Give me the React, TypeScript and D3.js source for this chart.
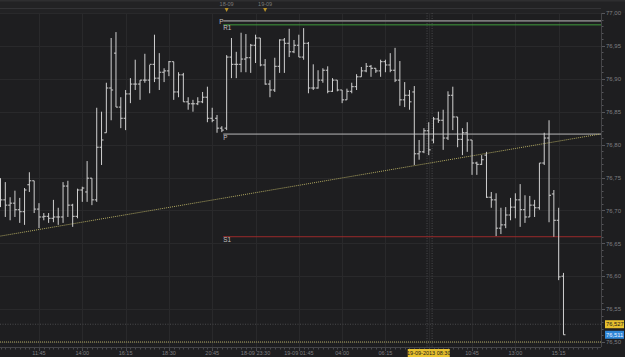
import React from "react";
import * as d3 from "d3";

// ---------- data (15-minute OHLC bars) ----------
const openP = [
  76.723, 76.716, 76.708, 76.711, 76.701, 76.698, 76.739, 76.745, 76.702, 76.690,
  76.691, 76.688, 76.690, 76.690, 76.737, 76.708, 76.691, 76.731, 76.728, 76.749,
  76.716, 76.796, 76.818, 76.886, 76.939, 76.857, 76.840, 76.877, 76.892, 76.892,
  76.898, 76.898, 76.922, 76.901, 76.910, 76.912, 76.926, 76.880, 76.906, 76.865,
  76.862, 76.862, 76.865, 76.872, 76.840, 76.840, 76.825, 76.825, 76.933, 76.922,
  76.922, 76.930, 76.932, 76.951, 76.962, 76.921, 76.892, 76.883, 76.919, 76.959,
  76.954, 76.941, 76.951, 76.933, 76.954, 76.886, 76.886, 76.898, 76.913, 76.881,
  76.898, 76.883, 76.868, 76.881, 76.888, 76.903, 76.912, 76.919, 76.916, 76.912,
  76.926, 76.921, 76.913, 76.898, 76.868, 76.875, 76.880, 76.786, 76.789, 76.821,
  76.807, 76.839, 76.837, 76.810, 76.875, 76.842, 76.808, 76.818, 76.807, 76.772,
  76.770, 76.784, 76.720, 76.716, 76.673, 76.678, 76.693, 76.705, 76.716, 76.701,
  76.690, 76.708, 76.704, 76.772, 76.810, 76.725, 76.685, 76.600,
];
const highP = [
  76.749, 76.743, 76.720, 76.730, 76.719, 76.734, 76.758, 76.745, 76.711, 76.696,
  76.696, 76.716, 76.704, 76.743, 76.745, 76.710, 76.733, 76.736, 76.775, 76.749,
  76.856, 76.850, 76.894, 76.962, 76.971, 76.872, 76.883, 76.901, 76.929, 76.898,
  76.938, 76.921, 76.967, 76.939, 76.916, 76.927, 76.926, 76.910, 76.909, 76.872,
  76.868, 76.872, 76.880, 76.888, 76.856, 76.845, 76.828, 76.936, 76.962, 76.941,
  76.970, 76.968, 76.953, 76.967, 76.962, 76.930, 76.898, 76.932, 76.960, 76.962,
  76.976, 76.959, 76.967, 76.977, 76.956, 76.922, 76.913, 76.916, 76.919, 76.901,
  76.898, 76.883, 76.885, 76.894, 76.907, 76.918, 76.924, 76.921, 76.916, 76.929,
  76.929, 76.939, 76.947, 76.927, 76.895, 76.883, 76.889, 76.807, 76.825, 76.834,
  76.842, 76.850, 76.853, 76.881, 76.888, 76.842, 76.825, 76.834, 76.807, 76.774,
  76.784, 76.789, 76.728, 76.726, 76.704, 76.705, 76.719, 76.726, 76.740, 76.723,
  76.722, 76.716, 76.772, 76.818, 76.837, 76.731, 76.704, 76.605,
];
const lowP = [
  76.705, 76.690, 76.685, 76.690, 76.681, 76.678, 76.728, 76.696, 76.673, 76.685,
  76.681, 76.682, 76.678, 76.681, 76.690, 76.675, 76.688, 76.713, 76.713, 76.708,
  76.713, 76.769, 76.818, 76.837, 76.857, 76.825, 76.822, 76.863, 76.883, 76.868,
  76.894, 76.878, 76.895, 76.883, 76.895, 76.904, 76.868, 76.872, 76.865, 76.853,
  76.850, 76.860, 76.863, 76.834, 76.834, 76.818, 76.819, 76.822, 76.901, 76.901,
  76.910, 76.910, 76.909, 76.924, 76.919, 76.891, 76.872, 76.880, 76.909, 76.909,
  76.933, 76.939, 76.933, 76.929, 76.878, 76.883, 76.885, 76.894, 76.878, 76.880,
  76.881, 76.863, 76.868, 76.878, 76.883, 76.903, 76.910, 76.903, 76.909, 76.903,
  76.910, 76.910, 76.895, 76.859, 76.857, 76.853, 76.769, 76.777, 76.787, 76.784,
  76.802, 76.833, 76.792, 76.807, 76.822, 76.796, 76.784, 76.789, 76.754, 76.754,
  76.769, 76.719, 76.704, 76.661, 76.664, 76.673, 76.685, 76.688, 76.675, 76.681,
  76.690, 76.690, 76.701, 76.769, 76.682, 76.660, 76.594, 76.511,
];
const closeP = [
  76.716, 76.708, 76.711, 76.701, 76.698, 76.731, 76.745, 76.702, 76.690, 76.691,
  76.688, 76.690, 76.690, 76.737, 76.708, 76.691, 76.731, 76.734, 76.749, 76.716,
  76.796, 76.807, 76.886, 76.883, 76.857, 76.840, 76.877, 76.892, 76.892, 76.898,
  76.898, 76.922, 76.901, 76.910, 76.912, 76.926, 76.880, 76.906, 76.865, 76.862,
  76.862, 76.865, 76.872, 76.840, 76.837, 76.825, 76.822, 76.933, 76.922, 76.922,
  76.930, 76.932, 76.951, 76.962, 76.921, 76.892, 76.883, 76.919, 76.959, 76.954,
  76.941, 76.951, 76.933, 76.954, 76.886, 76.886, 76.898, 76.913, 76.881, 76.898,
  76.883, 76.868, 76.881, 76.888, 76.903, 76.912, 76.919, 76.916, 76.912, 76.926,
  76.921, 76.913, 76.898, 76.868, 76.875, 76.865, 76.786, 76.789, 76.821, 76.792,
  76.839, 76.837, 76.810, 76.875, 76.842, 76.808, 76.818, 76.807, 76.772, 76.770,
  76.777, 76.720, 76.716, 76.673, 76.678, 76.693, 76.705, 76.716, 76.701, 76.690,
  76.708, 76.704, 76.772, 76.810, 76.723, 76.685, 76.599, 76.511,
];

const xTickLabels = [
  "11:45", "14:00", "16:15", "18:30", "20:45", "18-09 23:30", "19-09 01:45",
  "04:00", "06:15", "19-09-2013 08:30", "10:45", "13:00", "15:15",
];
const xTickIndex = [8, 17, 26, 35, 44, 53, 62, 71, 80, 89, 98, 107, 116];
const highlightedTick = "19-09-2013 08:30";

const priceTicks = [76.5, 76.55, 76.6, 76.65, 76.7, 76.75, 76.8, 76.85, 76.9, 76.95, 77.0];

const dayLabels = ["18-09", "19-09"];
const dayIndex = [47, 55];

const pivotNames = ["P", "R1", "P", "S1"];
const pivotValues = [76.988, 76.982, 76.816, 76.66];
const pivotColors = ["#7a7a7a", "#3f9a3a", "#b8b8b8", "#9a2a2a"];
const pivotStart = 46.3;

const trendIndex = [0, 124.6];
const trendPrice = [76.661, 76.816];

const bottomLevel = 76.5;
const crossPrice = 76.527;
const crossIndex = [88.65, 89.7];
const lastPrice = 76.511;

// ---------- layout ----------
const W = 625;
const H = 357;
const PLOT_R = 601;
const PLOT_T = 13;
const AXIS_Y = 347;

const fmt = (v: number, d = 2) => d3.format(`.${d}f`)(v).replace(".", ",");

export default function App() {
  const n = openP.length;
  const x = d3.scaleLinear().domain([0, 124.8]).range([0.5, PLOT_R]);
  const y = d3.scaleLinear().domain([76.5, 77.0]).range([342, PLOT_T]);
  const barColor = "#d0d0d0";
  const textColor = "#7e7e80";
  const font = "'Liberation Sans', Arial, sans-serif";

  const minorPrice = d3.range(0, 51).map((k) => 76.5 + k * 0.01);
  const trend = d3
    .line<number>()
    .x((_, i) => x(trendIndex[i]))
    .y((d) => y(d));

  return (
    <svg
      width={W}
      height={H}
      style={{ position: "absolute", left: 0, top: 0, background: "#1e1e20" }}
      fontFamily={font}
    >
      <rect x={0} y={0} width={W} height={H} fill="#1e1e20" />
      {/* top strip */}
      <rect x={0} y={0} width={W} height={PLOT_T} fill="#222224" />
      <rect x={0} y={0} width={W} height={1.5} fill="#2e2e30" />
      <line x1={0} x2={PLOT_R} y1={8.5} y2={8.5} stroke="#333336" />
      <line x1={0} x2={PLOT_R} y1={PLOT_T + 0.5} y2={PLOT_T + 0.5} stroke="#38383b" />

      {/* grid */}
      {priceTicks.map((p, i) => (
        <line key={"hg" + i} x1={0} x2={PLOT_R} y1={Math.round(y(p)) + 0.5} y2={Math.round(y(p)) + 0.5} stroke="#29292b" />
      ))}
      {xTickIndex.map((t, i) => (
        <line key={"vg" + i} x1={Math.round(x(t)) + 0.5} x2={Math.round(x(t)) + 0.5} y1={PLOT_T} y2={AXIS_Y} stroke="#29292b" />
      ))}

      {/* day markers */}
      {dayLabels.map((d, i) => (
        <g key={"day" + i}>
          <text x={x(dayIndex[i])} y={6} fontSize={5.5} fill="#7a7a7a" textAnchor="middle">
            {d}
          </text>
          <path
            d={`M${x(dayIndex[i]) - 2},8 L${x(dayIndex[i]) + 2},8 L${x(dayIndex[i])},12 Z`}
            fill="#b8922a"
          />
        </g>
      ))}

      {/* crosshair */}
      {crossIndex.map((c, i) => (
        <line key={"cx" + i} x1={x(c)} x2={x(c)} y1={PLOT_T} y2={AXIS_Y} stroke="#4a4a4c" strokeDasharray="1,1.5" />
      ))}
      <line x1={0} x2={PLOT_R} y1={y(crossPrice)} y2={y(crossPrice)} stroke="#4a4a4c" strokeDasharray="1,1.5" />
      <line x1={0} x2={PLOT_R} y1={y(bottomLevel)} y2={y(bottomLevel)} stroke="#b0a860" strokeDasharray="1,1" />

      {/* pivot levels */}
      {pivotValues.map((v, i) => (
        <g key={"pv" + i}>
          <line
            x1={x(pivotStart)}
            x2={PLOT_R}
            y1={y(v)}
            y2={y(v)}
            stroke={pivotColors[i]}
            strokeWidth={i === 0 ? 1.6 : 1}
          />
          <text
            x={x(pivotStart) + (i === 0 ? -4 : 0)}
            y={y(v) + (i === 0 ? 3 : 5.5)}
            fontSize={6.3}
            fill="#c0c0c0"
          >
            {pivotNames[i]}
          </text>
        </g>
      ))}

      {/* trend line */}
      <path d={trend(trendPrice) || ""} fill="none" stroke="#b0a860" strokeWidth={1} strokeDasharray="1,1" />

      {/* OHLC bars */}
      {d3.range(n).map((i) => {
        const cx = x(i);
        return (
          <g key={"b" + i} stroke={barColor} strokeWidth={1}>
            <line x1={cx} x2={cx} y1={y(highP[i])} y2={y(lowP[i])} />
            <line x1={cx - 2} x2={cx} y1={y(openP[i])} y2={y(openP[i])} />
            <line x1={cx} x2={cx + 2} y1={y(closeP[i])} y2={y(closeP[i])} />
          </g>
        );
      })}

      {/* right axis */}
      <line x1={PLOT_R + 0.5} x2={PLOT_R + 0.5} y1={PLOT_T} y2={AXIS_Y} stroke="#444447" />
      {minorPrice.map((p, i) => (
        <line
          key={"mt" + i}
          x1={PLOT_R + 1}
          x2={PLOT_R + (i % 5 === 0 ? 4 : 2.5)}
          y1={Math.round(y(p)) + 0.5}
          y2={Math.round(y(p)) + 0.5}
          stroke="#55555a"
        />
      ))}
      {priceTicks.map((p, i) => (
        <text key={"pl" + i} x={606} y={y(p) + 2.2} fontSize={6} fill={textColor}>
          {fmt(p)}
        </text>
      ))}
      <rect x={605} y={y(crossPrice) - 4} width={19} height={8} fill="#e6c02e" />
      <text x={606} y={y(crossPrice) + 2.2} fontSize={5.8} fill="#1a1a1a">
        {fmt(crossPrice, 3)}
      </text>
      <rect x={605} y={y(lastPrice) - 4} width={19} height={8} fill="#2f86d6" />
      <text x={606} y={y(lastPrice) + 2.2} fontSize={5.8} fill="#e8f0ff">
        {fmt(lastPrice, 3)}
      </text>

      {/* bottom axis */}
      <line x1={0} x2={PLOT_R} y1={AXIS_Y + 0.5} y2={AXIS_Y + 0.5} stroke="#444447" />
      {d3.range(0, 125).map((i) => (
        <line
          key={"bt" + i}
          x1={Math.round(x(i)) + 0.5}
          x2={Math.round(x(i)) + 0.5}
          y1={AXIS_Y + 1}
          y2={AXIS_Y + (xTickIndex.includes(i) ? 4 : 2.5)}
          stroke="#4a4a4d"
        />
      ))}
      {xTickLabels.map((t, i) => {
        const cx = x(xTickIndex[i]);
        const hl = t === highlightedTick;
        return (
          <g key={"xl" + i}>
            {hl && <rect x={cx - 21} y={349} width={42} height={8} fill="#e6c02e" />}
            <text x={cx} y={355} fontSize={5.5} textAnchor="middle" fill={hl ? "#1a1a1a" : textColor}>
              {t}
            </text>
          </g>
        );
      })}
    </svg>
  );
}
